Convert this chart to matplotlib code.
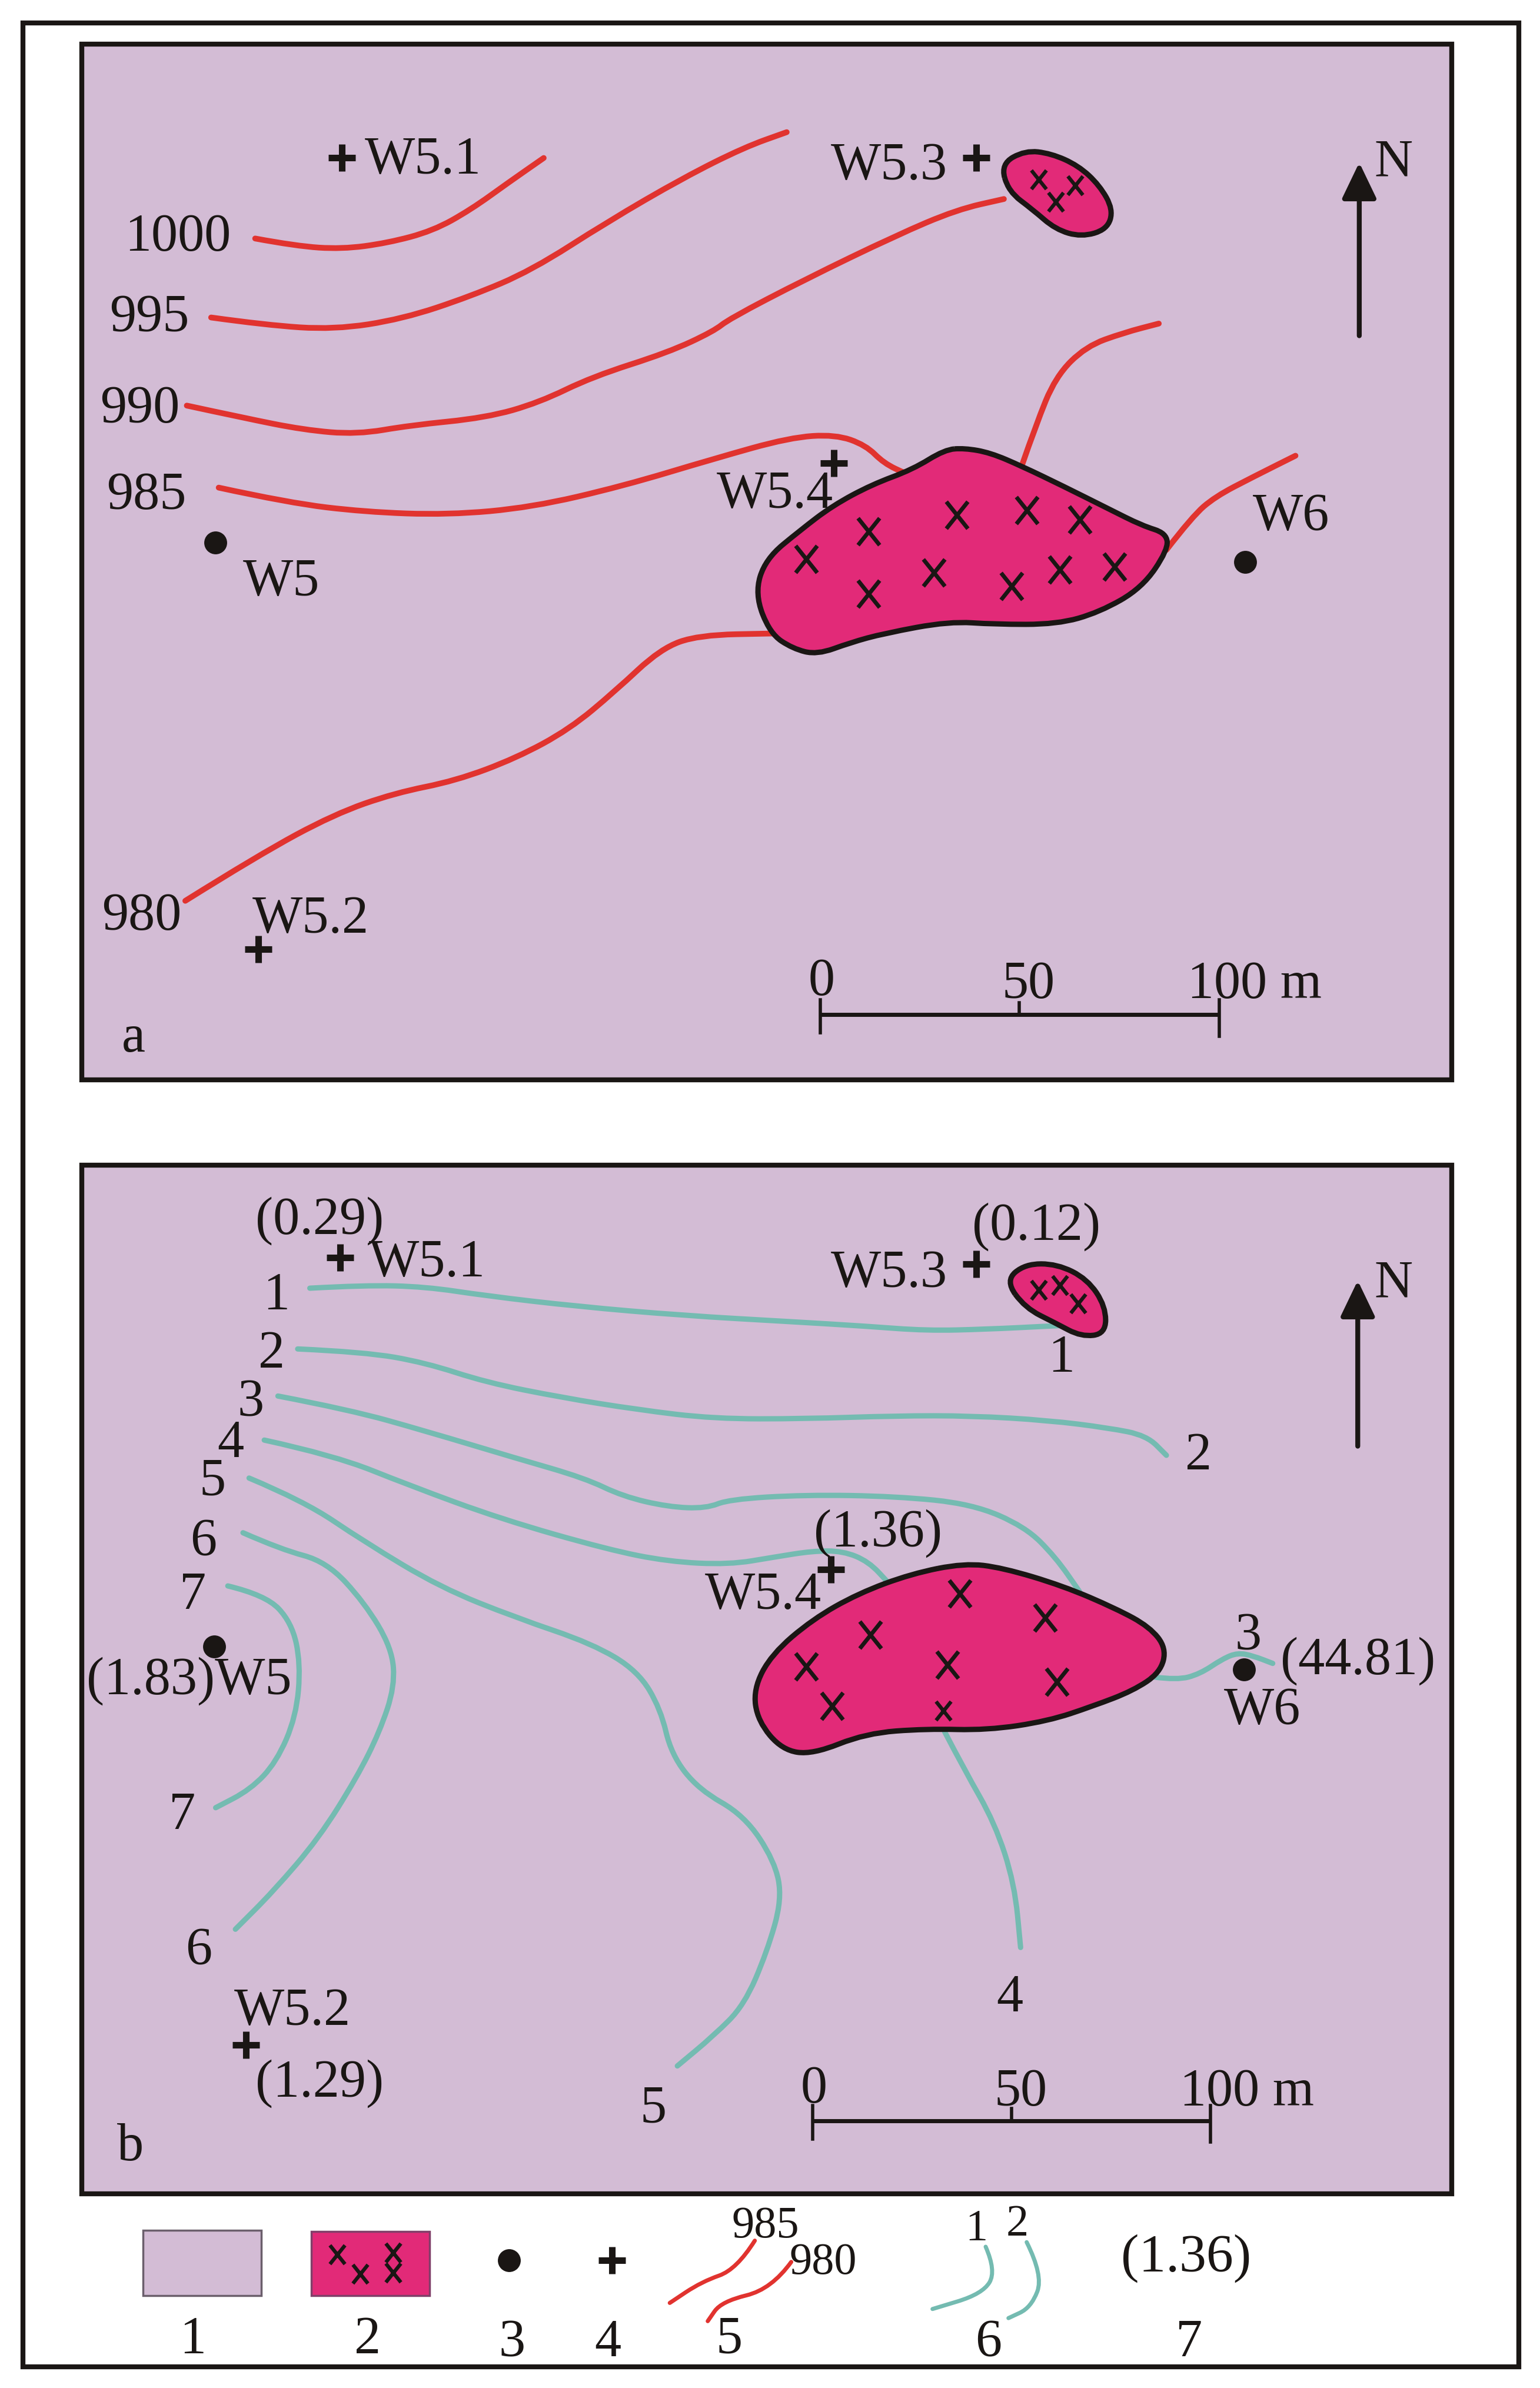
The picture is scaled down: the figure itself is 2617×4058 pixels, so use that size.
import matplotlib
matplotlib.use("Agg")
import matplotlib.pyplot as plt
from matplotlib.path import Path
from matplotlib.patches import PathPatch, Rectangle, FancyArrowPatch

plt.rcParams['font.family'] = ['Liberation Serif', 'DejaVu Serif']

BG = '#d3bcd5'; PINK = '#e22a78'; RED = '#e1332f'; TEAL = '#74bbb1'; INK = '#1a1614'

# ---- panel a contours (map position) ----
c1000 = [(168,157),(195,162),(225,164),(255,160),(285,152),(310,138),(335,120),(358,104)]
c995 = [(139,209),(175,214),(220,217),(265,210),(310,195),(350,178),(400,146),(450,117),(490,97),(518,87)]
c990 = [(123,267),(160,275),(200,283),(235,286),(270,280),(320,275),(355,265),(390,248),(440,232),(470,218),(480,210),(530,184),(590,155),(630,138),(661,131)]
c985 = [(144,321),(190,331),(240,337),(295,339),(350,334),(410,320),(470,302),(520,288),(550,286),(570,293),(582,305),(597,312)]
c980 = [(122,593),(170,563),(220,536),(260,522),(300,514),(340,499),(375,480),(405,455),(435,427),(460,418),(510,417)]
c985_east = [(673,306),(682,280),(695,248),(715,228),(740,219),(763,213)]
c980_east = [(768,362),(785,340),(800,327),(825,314),(853,300)]
red_lines = [c1000, c995, c990, c985, c980, c985_east, c980_east]

# ---- panel b contours ----
b1 = [(204,848),(240,846),(280,847),(320,853),(380,860),(450,866),(520,870),(570,873),(610,876),(650,875),(690,873),(712,872)]
b2 = [(196,888),(240,890),(280,897),(320,910),(370,920),(420,928),(470,934),(530,934),(590,932),(640,932),(690,935),(730,940),(755,945),(768,958)]
b3 = [(183,919),(230,928),(280,942),(340,960),(385,973),(410,985),(440,992),(465,993),(480,987),(530,984),(590,985),(640,990),(675,1005),(695,1025),(711,1048)]
b4 = [(174,948),(220,958),(270,978),(330,1000),(400,1020),(440,1028),(480,1030),(510,1025),(535,1021),(555,1021),(572,1028),(585,1042)]
b5 = [(164,973),(200,988),(240,1015),(290,1045),(340,1065),(390,1082),(420,1100),(435,1125),(442,1155),(460,1178),(490,1195),(510,1225),(515,1250),(505,1285),(490,1320),(470,1340),(446,1360)]
b6 = [(160,1009),(185,1020),(215,1028),(240,1055),(258,1085),(260,1110),(250,1140),(235,1170),(210,1210),(180,1245),(155,1270)]
b7 = [(150,1044),(175,1050),(192,1068),(198,1095),(195,1130),(182,1160),(165,1178),(142,1190)]
b4_south = [(622,1140),(635,1165),(655,1200),(668,1240),(672,1282)]
b3_east = [(760,1104),(775,1106),(790,1102),(805,1092),(815,1088),(825,1090),(838,1095)]
teal_lines = [b1, b2, b3, b4, b5, b6, b7, b4_south, b3_east]

# ---- intrusive bodies ----
body_a = [(635,295),(652,298),(673,307),(700,320),(730,335),(752,346),(768,351),(769,362),(752,387),(724,403),(696,411),(655,411),(625,409),(582,417),(560,423),(538,431),(522,427),(507,417),(497,391),(504,368),(527,349),(548,333),(574,319),(601,309),(622,296)]
small_a = [(659,108),(675,99),(692,101),(710,109),(724,122),(733,138),(729,151),(712,156),(695,151),(680,138),(664,126)]
body_b = [(635,1029),(660,1032),(700,1044),(735,1059),(757,1071),(768,1085),(764,1101),(746,1113),(720,1123),(690,1133),(650,1139),(610,1138),(570,1141),(535,1155),(515,1152),(499,1133),(496,1112),(508,1089),(535,1066),(565,1049),(600,1036)]
small_b = [(662,843),(675,832),(696,832),(716,842),(728,860),(728,878),(712,880),(695,871),(675,861)]
bodies = [body_a, small_a, body_b, small_b]

cross_x = [531,572,630,676,711,572,615,666,698,734, 632,688,573,531,624,696,548]
cross_y = [368,350,339,336,342,391,377,386,375,373, 1049,1065,1076,1097,1096,1107,1123]
small_cross_x = [684,708,695, 621, 684,698,710, 222,259,237,259]
small_cross_y = [118,122,133, 1126, 849,846,858, 1484,1483,1497,1496]

plus_x = [225,643,549,170, 224,643,547,162, 403]
plus_y = [104,104,305,625, 828,832,1033,1346, 1488]
dot_x = [142,820, 141,819, 335]
dot_y = [357,370, 1084,1099, 1488]

# ---- labels ----
left_texts = ['W5.1','W5.3','W5.4','W5.2','W5','W6','1000','995','990','985','980','a','N',
              '(0.29)','W5.1','(1.83)W5','W5.2','(1.29)','(1.36)','W5.4','W5.3','(0.12)','(44.81)','W6','b','N']
left_x = [240,547,472,166,160,825,82,72,66,70,67,80,905,
          168,243,57,154,168,536,464,547,640,843,806,77,905]
left_y = [103,107,323,603,381,338,154,207,267,324,601,681,105,
          801,829,1104,1322,1369,1007,1048,836,805,1091,1124,1411,843]
center_texts = ['1','2','3','4','5','6','7','7','6','5','4','1','2','3','0','50','0','50']
center_x = [182,179,165,152,140,134,127,120,131,430,665,699,789,822,541,677,536,672]
center_y = [851,889,921,948,973,1013,1048,1193,1282,1386,1313,892,956,1075,644,646,1373,1375]
scale_unit_texts = ['100 m','100 m']
scale_unit_x = [782,777]
scale_unit_y = [646,1375]

legend_rows = ['1','2','3','4','5','6','7']
legend_row_x = [127,242,337,400,480,651,783]
legend_row_y = [1538,1538,1540,1540,1538,1540,1540]
legend_red1 = [(497,1475),(485,1494),(462,1502),(441,1516)]
legend_red2 = [(521,1489),(508,1507),(475,1515),(466,1528)]
legend_teal1 = [(649,1479),(656,1495),(647,1510),(614,1520)]
legend_teal2 = [(676,1476),(687,1498),(679,1519),(664,1526)]
legend_small_texts = ['985','980','1','2']
legend_small_x = [504,542,643,670]
legend_small_y = [1463,1487,1465,1462]

fig = plt.figure(figsize=(26.17, 40.58), dpi=100)
ax = fig.add_axes([0, 0, 1, 1])
ax.set_xlim(0, 1014); ax.set_ylim(1572, 0); ax.axis('off')

def smooth(points, closed=False):
    if closed:
        mids = [((points[i][0]+points[(i+1) % len(points)][0])/2, (points[i][1]+points[(i+1) % len(points)][1])/2) for i in range(len(points))]
        verts = [mids[-1]]; codes = [Path.MOVETO]
        for i, p in enumerate(points):
            verts += [p, mids[i]]; codes += [Path.CURVE3, Path.CURVE3]
        return Path(verts, codes)
    verts = [points[0]]; codes = [Path.MOVETO]
    for i in range(1, len(points)-1):
        mid = ((points[i][0]+points[i+1][0])/2, (points[i][1]+points[i+1][1])/2)
        verts += [points[i], mid]; codes += [Path.CURVE3, Path.CURVE3]
    verts.append(points[-1]); codes.append(Path.LINETO)
    return Path(verts, codes)

ax.add_patch(Rectangle((15,15), 985, 1543, fc='white', ec=INK, lw=6, zorder=0))
for (x, y, w, h) in [(54,29,902,682),(54,767,902,677)]:
    ax.add_patch(Rectangle((x,y), w, h, fc=BG, ec=INK, lw=6, zorder=1))

def line(pts, color, lw):
    ax.add_patch(PathPatch(smooth(pts), fc='none', ec=color, lw=lw, capstyle='round', zorder=2))

for pts in red_lines: line(pts, RED, 7)
for pts in teal_lines: line(pts, TEAL, 6.5)
for pts in [legend_red1, legend_red2]: line(pts, RED, 5)
for pts in [legend_teal1, legend_teal2]: line(pts, TEAL, 5)

ax.add_patch(Rectangle((94,1468), 78, 43, fc=BG, ec='#6b5f6c', lw=2.5, zorder=1))
ax.add_patch(Rectangle((205,1469), 78, 42, fc=PINK, ec='#80406a', lw=2.5, zorder=1))

for b in bodies:
    ax.add_patch(PathPatch(smooth(b, closed=True), fc=PINK, ec=INK, lw=6.5, zorder=3))

tall_x = Path([(-0.4,-0.5),(0.4,0.5),(0.4,-0.5),(-0.4,0.5)],
              [Path.MOVETO,Path.LINETO,Path.MOVETO,Path.LINETO])
ax.plot(cross_x, cross_y, ls='none', marker=tall_x, ms=33, mew=5, color=INK, zorder=4)
ax.plot(small_cross_x, small_cross_y, ls='none', marker=tall_x, ms=23, mew=4.5, color=INK, zorder=4)
ax.plot(plus_x, plus_y, ls='none', marker='+', ms=33, mew=8, color=INK, zorder=4)
ax.plot(dot_x, dot_y, ls='none', marker='o', ms=28, color=INK, mew=0, zorder=4)

FS = 65
DY = 2.5
for t, x, y in zip(left_texts, left_x, left_y):
    ax.text(x, y+DY, t, fontsize=FS, color=INK, ha='left', va='center', zorder=5)
for t, x, y in zip(center_texts, center_x, center_y):
    ax.text(x, y+DY, t, fontsize=FS, color=INK, ha='center', va='center', zorder=5)
for t, x, y in zip(scale_unit_texts, scale_unit_x, scale_unit_y):
    ax.text(x, y+DY, t, fontsize=FS, color=INK, ha='left', va='center', zorder=5)
for t, x, y in zip(legend_rows, legend_row_x, legend_row_y):
    ax.text(x, y+DY, t, fontsize=FS, color=INK, ha='center', va='center', zorder=5)
for t, x, y in zip(legend_small_texts, legend_small_x, legend_small_y):
    ax.text(x, y+DY, t, fontsize=55, color=INK, ha='center', va='center', zorder=5)
ax.text(781, 1484+DY, '(1.36)', fontsize=FS+1, color=INK, ha='center', va='center', zorder=5)

for x0, x1, xm, y in [(540,803,671,668),(535,797,666,1396)]:
    ax.plot([x0,x1],[y,y], color=INK, lw=5, zorder=4, solid_capstyle='butt')
    ax.plot([x0,x0],[y-10,y+12], color=INK, lw=4, zorder=4)
    ax.plot([x1,x1],[y-10,y+14], color=INK, lw=4, zorder=4)
    ax.plot([xm,xm],[y-8,y], color=INK, lw=4, zorder=4)

for x, y0, y1 in [(895,221,107),(894,952,843)]:
    ax.add_patch(FancyArrowPatch((x,y0),(x,y1), arrowstyle='-|>,head_length=0.75,head_width=0.36',
                                 mutation_scale=50, lw=6, color=INK, shrinkA=0, shrinkB=0, zorder=4))

fig.savefig('out.png', dpi=100, facecolor='white')
